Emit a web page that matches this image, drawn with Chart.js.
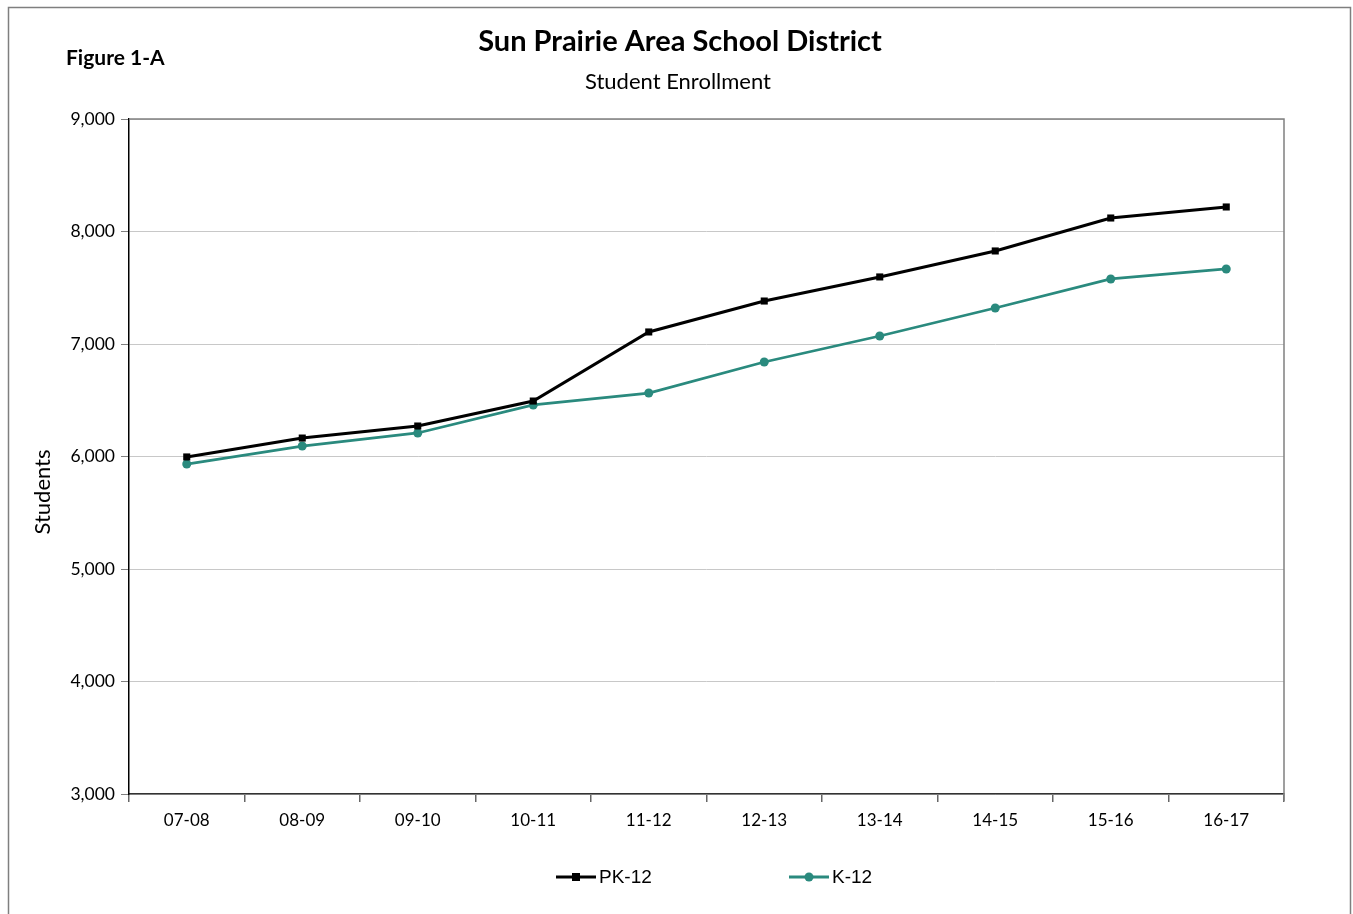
<!DOCTYPE html>
<html>
<head>
<meta charset="utf-8">
<script src="https://cdn.jsdelivr.net/npm/chart.js@4/dist/chart.umd.min.js"></script>
<style>
    html, body { margin: 0; padding: 0; background: #fff; }
    #wrap { position: absolute; left: 0; top: 0; width: 1353px; height: 914px; }
</style>
</head>
<body>
<div id="wrap"><canvas id="grafico" width="1353" height="914"></canvas></div>
<script>
const anos = ['07-08', '08-09', '09-10', '10-11', '11-12', '12-13', '13-14', '14-15', '15-16', '16-17'];
const pk12 = [5996, 6164, 6271, 6493, 7107, 7382, 7596, 7827, 8120, 8218];
const k12 = [5933, 6093, 6209, 6458, 6564, 6840, 7071, 7320, 7578, 7667];

const tituloPrincipal = 'Sun Prairie Area School District';
const subtitulo = 'Student Enrollment';
const rotuloFigura = 'Figure 1-A';
const rotuloEixoY = 'Students';

const corPk = '#000000';
const corK = '#2a8a7e';
const fonte = 'Lato, "Open Sans", sans-serif';

// moldura, titulos e legenda desenhados a mao
const moldura = {
    id: 'moldura',
    beforeDraw(chart) {
        const ctx = chart.ctx;
        ctx.save();
        ctx.strokeStyle = '#7f7f7f';
        ctx.lineWidth = 1.5;
        ctx.beginPath();
        ctx.moveTo(8.5, 920);
        ctx.lineTo(8.5, 7.5);
        ctx.lineTo(1350.5, 7.5);
        ctx.lineTo(1350.5, 920);
        ctx.stroke();
        ctx.restore();
    },
    afterDraw(chart) {
        const ctx = chart.ctx;
        const area = chart.chartArea;
        ctx.save();

        // borda superior e direita da area do grafico
        ctx.strokeStyle = '#808080';
        ctx.lineWidth = 1.5;
        ctx.beginPath();
        ctx.moveTo(area.left, area.top);
        ctx.lineTo(area.right, area.top);
        ctx.lineTo(area.right, area.bottom + 7);
        ctx.stroke();

        ctx.fillStyle = '#000';
        ctx.textAlign = 'center';
        ctx.textBaseline = 'middle';
        ctx.font = 'bold 29px ' + fonte;
        ctx.fillText(tituloPrincipal, 680, 42);
        ctx.font = '22px ' + fonte;
        ctx.fillText(subtitulo, 678, 82);

        ctx.textAlign = 'left';
        ctx.font = 'bold 21px ' + fonte;
        ctx.fillText(rotuloFigura, 66, 58);

        // titulo do eixo y
        ctx.save();
        ctx.translate(43, 492);
        ctx.rotate(-Math.PI / 2);
        ctx.textAlign = 'center';
        ctx.font = '22px ' + fonte;
        ctx.fillText(rotuloEixoY, 0, 0);
        ctx.restore();

        // legenda
        const itens = chart.data.datasets.map((ds, i) => ({ ds, x: [556, 789][i] }));
        const yLeg = 877;
        itens.forEach(({ ds, x }) => {
            ctx.strokeStyle = ds.borderColor;
            ctx.lineWidth = 3;
            ctx.beginPath();
            ctx.moveTo(x, yLeg);
            ctx.lineTo(x + 40, yLeg);
            ctx.stroke();
            ctx.fillStyle = ds.borderColor;
            if (ds.pointStyle === 'rect') {
                ctx.fillRect(x + 16, yLeg - 4, 8, 8);
            } else {
                ctx.beginPath();
                ctx.arc(x + 20, yLeg, 4.5, 0, Math.PI * 2);
                ctx.fill();
            }
            ctx.fillStyle = '#000';
            ctx.font = '19px "Liberation Sans", Arial, sans-serif';
            ctx.textAlign = 'left';
            ctx.fillText(ds.label, x + 43, yLeg + 1);
        });

        ctx.restore();
    }
};

new Chart(document.getElementById('grafico'), {
    type: 'line',
    data: {
        labels: anos,
        datasets: [
            {
                label: 'PK-12',
                data: pk12,
                borderColor: corPk,
                backgroundColor: corPk,
                borderWidth: 3,
                pointStyle: 'rect',
                pointRadius: 5,
                pointBorderWidth: 0,
                tension: 0
            },
            {
                label: 'K-12',
                data: k12,
                borderColor: corK,
                backgroundColor: corK,
                borderWidth: 2.75,
                pointStyle: 'circle',
                pointRadius: 4.5,
                pointBorderWidth: 0,
                tension: 0
            }
        ]
    },
    options: {
        responsive: false,
        animation: false,
        devicePixelRatio: 1,
        layout: {
            padding: { left: 31, top: 119, right: 69, bottom: 80 }
        },
        plugins: {
            legend: { display: false },
            title: { display: false },
            tooltip: { enabled: false }
        },
        scales: {
            x: {
                offset: true,
                afterFit: s => { s.height = 40; },
                grid: {
                    offset: true,
                    drawOnChartArea: false,
                    drawTicks: true,
                    tickLength: 8,
                    tickColor: '#666666',
                    lineWidth: 1.5
                },
                border: { color: '#333333', width: 1.5 },
                ticks: {
                    color: '#000',
                    font: { family: fonte, size: 17 },
                    padding: 8,
                    maxRotation: 0
                }
            },
            y: {
                min: 3000,
                max: 9000,
                afterFit: s => { s.width = 98; },
                grid: {
                    color: '#c8c8c8',
                    lineWidth: 1,
                    tickLength: 8,
                    tickColor: '#808080'
                },
                border: { color: '#000', width: 1.5 },
                ticks: {
                    stepSize: 1000,
                    color: '#000',
                    padding: 6,
                    font: { family: fonte, size: 17.5 },
                    callback: v => v.toLocaleString('en-US')
                }
            }
        }
    },
    plugins: [moldura]
});
</script>
</body>
</html>
